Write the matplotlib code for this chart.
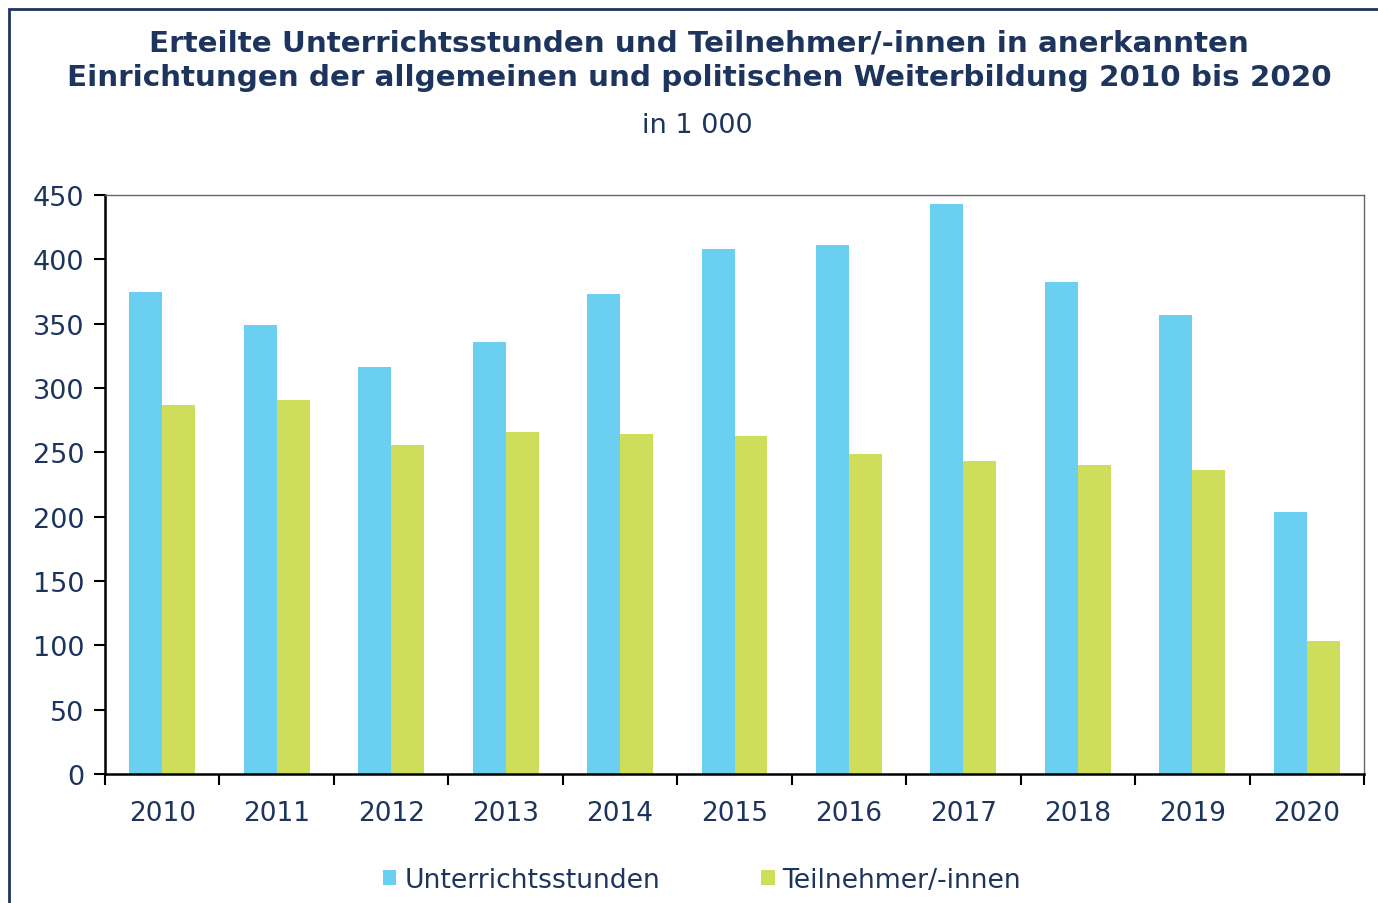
import numpy as np
import matplotlib.pyplot as plt
from matplotlib.patches import Rectangle

# Werte in 1 000
years = ["2010", "2011", "2012", "2013", "2014", "2015",
         "2016", "2017", "2018", "2019", "2020"]
stunden = [375, 349, 316, 336, 373, 408, 411, 443, 382, 357, 204]
teilnehmer = [287, 291, 256, 266, 264, 263, 249, 243, 240, 236, 103]

navy = "#1d355e"
blue = "#6acff0"
green = "#cfde5a"

plt.rcParams['font.family'] = ['DejaVu Sans']

fig = plt.figure(figsize=(13.78, 9.04), dpi=100)
ax = fig.add_axes([105/1378, 1 - 775/904, 1259/1378, 579/904])

x = np.arange(len(years))
w = 0.288
ax.bar(x - w/2, stunden, w, color=blue, label="Unterrichtsstunden")
ax.bar(x + w/2, teilnehmer, w, color=green, label="Teilnehmer/-innen")

ax.set_xlim(-0.5, len(years) - 0.5)
ax.set_ylim(0, 450)
ax.set_yticks(np.arange(0, 451, 50))
ax.set_xticks(x)
ax.set_xticklabels(years)
ax.set_xticks(np.arange(-0.5, len(years), 1), minor=True)
ax.tick_params(axis='x', which='major', length=0, pad=19, labelsize=19, labelcolor=navy)
ax.tick_params(axis='x', which='minor', length=8, width=1.5, direction='out')
ax.tick_params(axis='y', length=8, width=1.5, pad=7, labelsize=19.5, labelcolor=navy)

for s in ['left', 'bottom']:
    ax.spines[s].set_linewidth(1.8)
    ax.spines[s].set_color('black')
for s in ['top', 'right']:
    ax.spines[s].set_linewidth(1.0)
    ax.spines[s].set_color('#666666')

fig.text(699/1378, 1 - 43/904, "Erteilte Unterrichtsstunden und Teilnehmer/-innen in anerkannten",
         ha='center', va='center', fontsize=21.2, fontweight='bold', color=navy)
fig.text(699/1378, 1 - 78/904, "Einrichtungen der allgemeinen und politischen Weiterbildung 2010 bis 2020",
         ha='center', va='center', fontsize=21.2, fontweight='bold', color=navy)
fig.text(697/1378, 1 - 126/904, "in 1 000", ha='center', va='center', fontsize=19.5, color=navy)

leg = fig.legend(loc='center', bbox_to_anchor=(702/1378, 1 - 881/904), ncol=2, frameon=False,
                 fontsize=19.2, labelcolor=navy, handlelength=0.5, handleheight=0.5,
                 handletextpad=0.3, columnspacing=3.8)

# Rahmen oben und links
fig.patches.append(Rectangle((9/1378, -0.1), 1.2, 1 - 10/904 + 0.1, transform=fig.transFigure,
                             fill=False, edgecolor=navy, linewidth=2))

fig.savefig("out.png", dpi=100)
